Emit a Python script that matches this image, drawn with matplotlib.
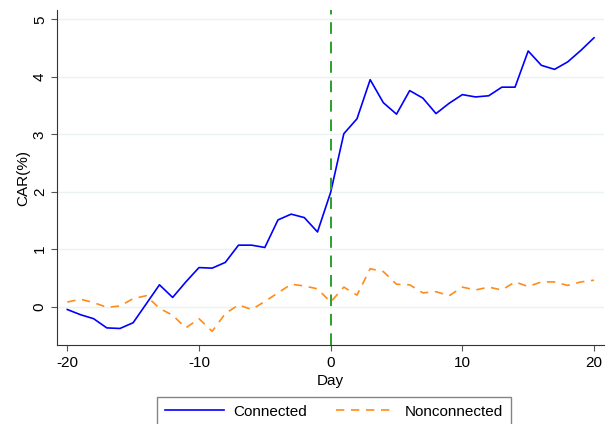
import numpy as np
import matplotlib
matplotlib.use("Agg")
import matplotlib.pyplot as plt

plt.rcParams['font.family'] = ['Liberation Sans', 'DejaVu Sans']
plt.rcParams['font.size'] = 11

# Dni okna zdarzenia
days = np.arange(-20, 21)

# Skumulowane nadzwyczajne stopy zwrotu
connected = [-0.05, -0.14, -0.21, -0.37, -0.38, -0.28, 0.05, 0.38, 0.16, 0.43,
             0.68, 0.67, 0.77, 1.07, 1.07, 1.03, 1.51, 1.61, 1.55, 1.30,
             1.99,
             3.01, 3.27, 3.95, 3.55, 3.35, 3.76, 3.63, 3.36, 3.54, 3.69,
             3.65, 3.67, 3.82, 3.82, 4.45, 4.20, 4.13, 4.26, 4.46, 4.68]
nonconnected = [0.08, 0.13, 0.07, -0.01, 0.01, 0.14, 0.19, -0.03, -0.15, -0.37,
                -0.21, -0.43, -0.12, 0.03, -0.05, 0.09, 0.24, 0.39, 0.36, 0.31,
                0.08,
                0.34, 0.20, 0.66, 0.61, 0.39, 0.38, 0.24, 0.26, 0.19, 0.34,
                0.29, 0.34, 0.29, 0.43, 0.35, 0.43, 0.43, 0.37, 0.43, 0.46]

xticks = [-20, -10, 0, 10, 20]
yticks = [0, 1, 2, 3, 4, 5]

fig = plt.figure(figsize=(6.12, 4.24), dpi=100)
ax = fig.add_axes([0.0936, 0.186, 0.987 - 0.0936, 0.976 - 0.186])

# Linie siatki
for y in yticks:
    ax.axhline(y, color='#eaf2f3', lw=1.0, zorder=0)

ax.plot(days, connected, color='#0000ff', lw=1.2, label='Connected')
ax.plot(days, nonconnected, color='#ff8c1a', lw=1.2, ls=(0, (5, 4)),
        label='Nonconnected')
ax.axvline(0, color='#2ca02c', lw=1.4, ls=(0, (6, 4)))

ax.set_xlim(-20.76, 20.76)
ax.set_ylim(-0.67, 5.16)
ax.set_xticks(xticks)
ax.set_yticks(yticks)
ax.set_xticklabels([str(t) for t in xticks])
ax.set_yticklabels([str(t) for t in yticks], rotation=90, va='center')
ax.tick_params(length=4, width=0.8, color='#555555')
ax.spines['top'].set_visible(False)
ax.spines['right'].set_visible(False)
ax.spines['left'].set_color('#333333')
ax.spines['bottom'].set_color('#333333')

ax.set_xlabel('Day', labelpad=3)
ax.set_ylabel('CAR(%)', labelpad=2)

leg = fig.legend(loc='upper center', bbox_to_anchor=(334 / 612, 1 - 397 / 424),
                 ncol=2, frameon=True, fancybox=False, handlelength=3.9,
                 handletextpad=0.6, columnspacing=1.9, borderpad=0.5,
                 borderaxespad=0)
leg.get_frame().set_edgecolor('#666666')
leg.get_frame().set_linewidth(1.0)

plt.savefig('out.png', dpi=100)
